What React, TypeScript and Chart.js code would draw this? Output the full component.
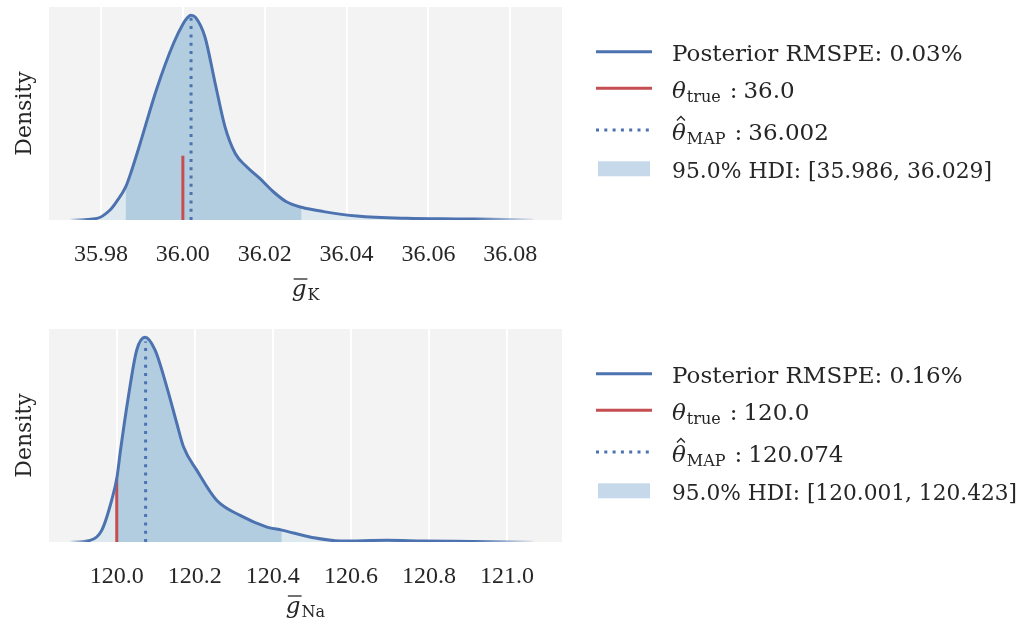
import React, { useEffect, useRef } from 'react';
import { Chart, registerables } from 'chart.js';

Chart.register(...registerables);

// ---------- data: potassium conductance (top panel) ----------
const K_X = [35.9724, 35.979, 35.9822, 35.9838, 35.986, 35.9875, 35.9895, 35.9936, 35.9977, 36.0001, 36.00095, 36.0019, 36.0031, 36.0054, 36.0079, 36.0103, 36.0128, 36.0156, 36.0188, 36.0221, 36.0253, 36.029, 36.0344, 36.0425, 36.0547, 36.067, 36.079, 36.0857];
const K_DENSITY = [0, 0.008, 0.049, 0.09, 0.16, 0.243, 0.37, 0.64, 0.862, 0.96, 0.984, 1.0, 0.99, 0.894, 0.667, 0.455, 0.325, 0.26, 0.203, 0.138, 0.089, 0.062, 0.041, 0.0195, 0.008, 0.005, 0.003, 0];
const K_TICKS = [35.98, 36.0, 36.02, 36.04, 36.06, 36.08];
const K_TICK_LABELS = ['35.98', '36.00', '36.02', '36.04', '36.06', '36.08'];
const K_RANGE = [35.96729, 36.09264];
const K_TRUE = 36.0;
const K_TRUE_HEIGHT = 0.314;
const K_MAP = 36.002;
const K_MAP_HEIGHT = 0.99;
const K_HDI = [35.986, 36.029];
const K_RMSPE = '0.03%';
const K_TRUE_LABEL = '36.0';
const K_MAP_LABEL = '36.002';
const K_HDI_LABEL = '[35.986, 36.029]';

// ---------- data: sodium conductance (bottom panel) ----------
const NA_X = [119.88, 119.9316, 119.9615, 119.987, 120.001, 120.0085, 120.0298, 120.0513, 120.0726, 120.098, 120.128, 120.154, 120.171, 120.205, 120.256, 120.316, 120.385, 120.423, 120.504, 120.5725, 120.692, 120.786, 120.914, 121.068];
const NA_DENSITY = [0, 0.008, 0.057, 0.204, 0.32, 0.432, 0.71, 0.938, 1.0, 0.938, 0.759, 0.579, 0.465, 0.351, 0.204, 0.13, 0.073, 0.058, 0.021, 0.005, 0.008, 0.005, 0.003, 0];
const NA_TICKS = [120.0, 120.2, 120.4, 120.6, 120.8, 121.0];
const NA_TICK_LABELS = ['120.0', '120.2', '120.4', '120.6', '120.8', '121.0'];
const NA_RANGE = [119.8264, 121.141];
const NA_TRUE = 120.0;
const NA_TRUE_HEIGHT = 0.311;
const NA_MAP = 120.074;
const NA_MAP_HEIGHT = 0.98;
const NA_HDI = [120.001, 120.423];
const NA_RMSPE = '0.16%';
const NA_TRUE_LABEL = '120.0';
const NA_MAP_LABEL = '120.074';
const NA_HDI_LABEL = '[120.001, 120.423]';

const Y_MAX = 1.0405;

const BLUE = '#4c72b0';
const RED = '#c44e52';
const HDI_FILL = '#b3cde0';
const LIGHT_FILL = '#dde9ee';
const PATCH = '#c6d9ea';
const BG = '#f3f3f3';
const TEXT = '#262626';
const LEGEND_FONT = '"DejaVu Serif", serif';
const TICK_FONT = '"Liberation Serif", serif';

type PanelData = {
  xs: number[];
  density: number[];
  ticks: number[];
  tickLabels: string[];
  range: number[];
  trueVal: number;
  trueHeight: number;
  mapVal: number;
  mapHeight: number;
  hdi: number[];
  rmspe: string;
  trueLabel: string;
  mapLabel: string;
  hdiLabel: string;
  sub: string;
};

const PANELS: PanelData[] = [
  { xs: K_X, density: K_DENSITY, ticks: K_TICKS, tickLabels: K_TICK_LABELS, range: K_RANGE, trueVal: K_TRUE, trueHeight: K_TRUE_HEIGHT, mapVal: K_MAP, mapHeight: K_MAP_HEIGHT, hdi: K_HDI, rmspe: K_RMSPE, trueLabel: K_TRUE_LABEL, mapLabel: K_MAP_LABEL, hdiLabel: K_HDI_LABEL, sub: 'K' },
  { xs: NA_X, density: NA_DENSITY, ticks: NA_TICKS, tickLabels: NA_TICK_LABELS, range: NA_RANGE, trueVal: NA_TRUE, trueHeight: NA_TRUE_HEIGHT, mapVal: NA_MAP, mapHeight: NA_MAP_HEIGHT, hdi: NA_HDI, rmspe: NA_RMSPE, trueLabel: NA_TRUE_LABEL, mapLabel: NA_MAP_LABEL, hdiLabel: NA_HDI_LABEL, sub: 'Na' },
];

function drawLegend(ctx: CanvasRenderingContext2D, top: number, p: PanelData) {
  const lx0 = 596;
  const lx1 = 652;
  const tx = 672;
  const bases = [53.8, 91.3, 133, 170.8].map((b) => top + b);
  ctx.save();
  ctx.fillStyle = TEXT;
  ctx.textBaseline = 'alphabetic';
  ctx.textAlign = 'left';
  const main = `23px ${LEGEND_FONT}`;
  const ital = `italic 23px ${LEGEND_FONT}`;
  const small = `16px ${LEGEND_FONT}`;

  // row 1: posterior
  ctx.lineWidth = 3;
  ctx.strokeStyle = BLUE;
  ctx.beginPath();
  ctx.moveTo(lx0, bases[0] - 9);
  ctx.lineTo(lx1, bases[0] - 9);
  ctx.stroke();
  ctx.font = main;
  const t1 = 'Posterior RMSPE: ' + p.rmspe;
  ctx.fillText(t1, tx, bases[0], Math.min(ctx.measureText(t1).width, 292));

  // row 2: true
  ctx.strokeStyle = RED;
  ctx.beginPath();
  ctx.moveTo(lx0, bases[1] - 10);
  ctx.lineTo(lx1, bases[1] - 10);
  ctx.stroke();
  ctx.font = ital;
  ctx.fillText('θ', tx, bases[1]);
  let x = tx + ctx.measureText('θ').width + 1;
  ctx.font = small;
  ctx.fillText('true', x, bases[1] + 4);
  x += ctx.measureText('true').width + 9;
  ctx.font = main;
  ctx.fillText(':', x, bases[1]);
  x += ctx.measureText(':').width + 6;
  ctx.fillText(p.trueLabel, x, bases[1]);

  // row 3: MAP
  ctx.strokeStyle = BLUE;
  ctx.setLineDash([3, 5.3]);
  ctx.lineCap = 'butt';
  ctx.beginPath();
  ctx.moveTo(lx0, bases[2] - 10);
  ctx.lineTo(lx1, bases[2] - 10);
  ctx.stroke();
  ctx.setLineDash([]);
  ctx.font = ital;
  ctx.fillText('θ', tx, bases[2]);
  const tw = ctx.measureText('θ').width;
  ctx.lineWidth = 1.3;
  ctx.strokeStyle = TEXT;
  ctx.beginPath();
  const hc = tx + tw / 2 + 2;
  ctx.moveTo(hc - 4, bases[2] - 19.5);
  ctx.lineTo(hc, bases[2] - 23.5);
  ctx.lineTo(hc + 4, bases[2] - 19.5);
  ctx.stroke();
  x = tx + tw + 1;
  ctx.font = small;
  ctx.fillText('MAP', x, bases[2] + 4);
  x += ctx.measureText('MAP').width + 9;
  ctx.font = main;
  ctx.fillText(':', x, bases[2]);
  x += ctx.measureText(':').width + 6;
  ctx.fillText(p.mapLabel, x, bases[2]);

  // row 4: HDI
  ctx.fillStyle = PATCH;
  ctx.fillRect(598, bases[3] - 16.5, 52, 15);
  ctx.fillStyle = TEXT;
  ctx.font = main;
  const t4 = '95.0% HDI: ' + p.hdiLabel;
  const maxW = p.sub === 'K' ? 320 : 345;
  ctx.fillText(t4, tx, bases[3], Math.min(ctx.measureText(t4).width, maxW));
  ctx.restore();
}

function drawXTitle(ctx: CanvasRenderingContext2D, cx: number, base: number, sub: string) {
  ctx.save();
  ctx.fillStyle = TEXT;
  ctx.strokeStyle = TEXT;
  ctx.textBaseline = 'alphabetic';
  ctx.textAlign = 'left';
  const ital = `italic 23px ${LEGEND_FONT}`;
  const small = `16px ${LEGEND_FONT}`;
  ctx.font = ital;
  const gw = ctx.measureText('g').width;
  ctx.font = small;
  const sw = ctx.measureText(sub).width;
  const total = gw + sw + 1;
  const x0 = cx - total / 2;
  ctx.font = ital;
  ctx.fillText('g', x0, base);
  ctx.lineWidth = 1.3;
  ctx.beginPath();
  ctx.moveTo(x0 + 2, base - 17);
  ctx.lineTo(x0 + gw + 1, base - 17);
  ctx.stroke();
  ctx.font = small;
  ctx.fillText(sub, x0 + gw + 1, base + 4);
  ctx.restore();
}

function PanelChart({ p, top, height, padTop, xHeight, titleOffset }: { p: PanelData; top: number; height: number; padTop: number; xHeight: number; titleOffset: number }) {
  const ref = useRef<HTMLCanvasElement>(null);
  useEffect(() => {
    const canvas = ref.current!;
    const pts = p.xs.map((x, i) => ({ x, y: p.density[i] }));
    const hdiPts = pts.filter((pt) => pt.x >= p.hdi[0] - 1e-9 && pt.x <= p.hdi[1] + 1e-9);

    const bgPlugin = {
      id: 'bg' + p.sub,
      beforeDraw(chart: any) {
        const { ctx, chartArea } = chart;
        ctx.save();
        ctx.fillStyle = BG;
        ctx.fillRect(chartArea.left, chartArea.top, chartArea.right - chartArea.left, chartArea.bottom - chartArea.top);
        ctx.restore();
      },
      afterDraw(chart: any) {
        const { ctx, chartArea } = chart;
        drawLegend(ctx, chartArea.top, p);
        drawXTitle(ctx, (chartArea.left + chartArea.right) / 2, chartArea.bottom + titleOffset, p.sub);
      },
    };

    const lineColor = (c: any) => {
      const chart = c.chart;
      if (!chart.chartArea) return BLUE;
      const sx = chart.scales.x;
      const a = sx.getPixelForValue(p.xs[0]);
      const b = sx.getPixelForValue(p.xs[p.xs.length - 1]);
      const g = chart.ctx.createLinearGradient(a, 0, b, 0);
      const w = b - a;
      g.addColorStop(0, 'rgba(76,114,176,0.05)');
      g.addColorStop(Math.min(0.4, 18 / w), BLUE);
      g.addColorStop(Math.max(0.6, 1 - 60 / w), BLUE);
      g.addColorStop(1, 'rgba(76,114,176,0.1)');
      return g;
    };

    const chart = new Chart(canvas, {
      type: 'line',
      data: {
        datasets: [
          {
            label: 'posterior',
            data: pts,
            borderColor: lineColor,
            borderWidth: 3,
            pointRadius: 0,
            fill: false,
            cubicInterpolationMode: 'monotone',
            order: 0,
          },
          {
            label: 'true',
            data: [{ x: p.trueVal, y: 0 }, { x: p.trueVal, y: p.trueHeight }],
            borderColor: RED,
            borderWidth: 3,
            pointRadius: 0,
            fill: false,
            order: 1,
          },
          {
            label: 'map',
            data: [{ x: p.mapVal, y: 0 }, { x: p.mapVal, y: p.mapHeight }],
            borderColor: BLUE,
            borderWidth: 3,
            borderDash: [3, 5.3],
            borderCapStyle: 'butt',
            pointRadius: 0,
            fill: false,
            order: 2,
          },
          {
            label: 'hdi',
            data: hdiPts,
            borderWidth: 0,
            borderColor: 'rgba(0,0,0,0)',
            backgroundColor: HDI_FILL,
            pointRadius: 0,
            fill: 'origin',
            cubicInterpolationMode: 'monotone',
            order: 3,
          },
          {
            label: 'all',
            data: pts,
            borderWidth: 0,
            borderColor: 'rgba(0,0,0,0)',
            backgroundColor: LIGHT_FILL,
            pointRadius: 0,
            fill: 'origin',
            cubicInterpolationMode: 'monotone',
            order: 4,
          },
        ] as any,
      },
      options: {
        animation: false,
        responsive: false,
        devicePixelRatio: 1,
        layout: { padding: { top: padTop, left: 0, right: 1023 - 562, bottom: 0 } },
        plugins: { legend: { display: false }, tooltip: { enabled: false } },
        scales: {
          x: {
            type: 'linear',
            min: p.range[0],
            max: p.range[1],
            afterBuildTicks: (axis: any) => {
              axis.ticks = p.ticks.map((v) => ({ value: v }));
            },
            afterFit: (scale: any) => {
              scale.height = xHeight;
            },
            grid: { color: '#ffffff', lineWidth: 2, drawTicks: false },
            border: { display: false },
            ticks: {
              autoSkip: false,
              maxRotation: 0,
              padding: 20,
              color: TEXT,
              font: { family: TICK_FONT, size: 24 },
              callback: (_v: any, i: number) => p.tickLabels[i],
            },
          },
          y: {
            min: 0,
            max: Y_MAX,
            afterFit: (scale: any) => {
              scale.width = 49;
            },
            grid: { display: false },
            border: { display: false },
            ticks: { display: false },
            title: {
              display: true,
              text: 'Density',
              color: TEXT,
              font: { family: LEGEND_FONT, size: 22 },
              padding: { top: 12, bottom: 0 },
            },
          },
        },
      },
      plugins: [bgPlugin],
    } as any);
    return () => chart.destroy();
  }, []);
  return (
    <canvas
      ref={ref}
      width={1023}
      height={height}
      style={{ position: 'absolute', left: 0, top, width: 1023, height }}
    />
  );
}

export default function App() {
  return (
    <div style={{ position: 'fixed', left: 0, top: 0, width: 1023, height: 623, background: '#ffffff', overflow: 'hidden' }}>
      <PanelChart p={PANELS[0]} top={0} height={311} padTop={7} xHeight={91} titleOffset={76} />
      <PanelChart p={PANELS[1]} top={311} height={312} padTop={18} xHeight={81} titleOffset={71} />
    </div>
  );
}
